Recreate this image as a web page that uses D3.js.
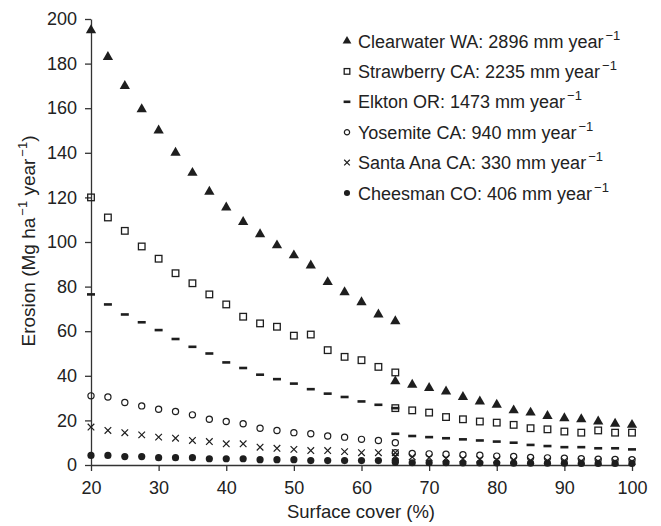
<!DOCTYPE html>
<html>
<head>
<meta charset="utf-8">
<script src="https://cdn.jsdelivr.net/npm/d3@7"></script>
<style>
    body { margin: 0; background: #fff; }
    text { font-family: 'Liberation Sans', Arial, sans-serif; fill: #222; }
    .axis path, .axis line { stroke: #333; stroke-width: 1.3; }
    .axis text { font-size: 18px; }
</style>
</head>
<body>
<div id="chart"></div>
<script>

// DATA

const cover = [20, 22.5, 25, 27.5, 30, 32.5, 35, 37.5, 40, 42.5, 45, 47.5, 50, 52.5, 55, 57.5, 60, 62.5, 65,
    65, 67.5, 70, 72.5, 75, 77.5, 80, 82.5, 85, 87.5, 90, 92.5, 95, 97.5, 100];

const clearwater = [195, 183, 170, 159.5, 150, 140, 131, 122.5, 115.5, 109, 103.5, 98.5, 94, 89.5, 82, 77.5, 73, 67.5, 64.5,
    37.5, 36, 34.5, 33, 30.5, 28.5, 27, 24.5, 23.5, 22, 21, 20.5, 19.5, 18.5, 18];
const strawberry = [120, 111, 105, 98, 92.5, 86, 81.5, 76.5, 72, 66.5, 63.5, 62, 58, 58.5, 51.5, 48.5, 47, 44, 41.5,
    25.5, 24.5, 23.5, 21.5, 20.5, 19.5, 19, 18, 16.5, 16, 15, 14.5, 15.5, 14.5, 14.5];
const elkton = [76.5, 72, 67.5, 64, 60.5, 56.5, 53, 50, 46, 43.5, 40.5, 38.5, 36.5, 34, 32, 30.5, 28.5, 27, 25.5,
    14, 13, 12.5, 12, 11.5, 11, 10.5, 10, 9, 8.5, 8, 8, 7.5, 7.5, 7];
const yosemite = [31, 30.5, 28, 26.5, 25, 24, 22.5, 20.5, 19.5, 18.5, 16.5, 15.5, 14.5, 14, 13, 12.5, 11.5, 11, 10,
    5.5, 5.2, 5, 4.8, 4.6, 4.4, 4, 3.8, 3.4, 3.2, 3, 2.8, 2.6, 2.5, 2.4];
const santa_ana = [17, 15.5, 14.5, 13.5, 12.5, 12, 11, 10.5, 9.5, 9.5, 8, 7.5, 7, 6.5, 6.5, 6, 5.5, 5.5, 5.5,
    4, 3.6, 3.3, 3, 2.8, 2.6, 2.4, 2.2, 2, 1.9, 1.8, 1.7, 1.6, 1.5, 1.5];
const cheesman = [4.3, 4.3, 3.8, 3.8, 3.3, 3.3, 3.3, 2.8, 2.8, 2.8, 2.4, 2.4, 2.4, 2, 2, 2, 2, 2, 2,
    1.2, 1, 1, 1, 0.9, 0.9, 0.9, 0.8, 0.8, 0.8, 0.8, 0.7, 0.7, 0.7, 0.7];

const sites = ['Clearwater WA: 2896 mm year', 'Strawberry CA: 2235 mm year', 'Elkton OR: 1473 mm year',
    'Yosemite CA: 940 mm year', 'Santa Ana CA: 330 mm year', 'Cheesman CO: 406 mm year'];
const series_values = [clearwater, strawberry, elkton, yosemite, santa_ana, cheesman];
const markers = ['triangle', 'square', 'dash', 'circle', 'cross', 'dot'];

const x_ticks = [20, 30, 40, 50, 60, 70, 80, 90, 100];
const y_ticks = [0, 20, 40, 60, 80, 100, 120, 140, 160, 180, 200];

// CONFIG

const width = 661,
    height = 526;

const plot = { left: 91, right: 632, top: 19, bottom: 465 };

const ink = '#1e1e1e';

// FUNCTIONS

const draw_marker = (g, type, x, y, k = 1) => {
    if (type === 'triangle') {
        g.append('path')
            .attr('d', d3.symbol(d3.symbolTriangle, 46 * k * k)())
            .attr('transform', `translate(${x}, ${y})`)
            .attr('fill', ink);
    } else if (type === 'square') {
        const s = 3.3 * k;
        g.append('rect')
            .attr('x', x - s).attr('y', y - s)
            .attr('width', 2 * s).attr('height', 2 * s)
            .attr('fill', 'none').attr('stroke', ink).attr('stroke-width', 1.3);
    } else if (type === 'dash') {
        g.append('rect')
            .attr('x', x - 4 * k).attr('y', y - 1.3)
            .attr('width', 8 * k).attr('height', 2.6)
            .attr('fill', ink);
    } else if (type === 'circle') {
        g.append('circle')
            .attr('cx', x).attr('cy', y).attr('r', 3.1 * k)
            .attr('fill', 'none').attr('stroke', ink).attr('stroke-width', 1.2);
    } else if (type === 'cross') {
        const s = 3.3 * k;
        g.append('path')
            .attr('d', `M${x - s},${y - s}L${x + s},${y + s}M${x - s},${y + s}L${x + s},${y - s}`)
            .attr('stroke', ink).attr('stroke-width', 1.2);
    } else {
        g.append('circle')
            .attr('cx', x).attr('cy', y).attr('r', 3.6 * k)
            .attr('fill', ink);
    }
}

// D3

const svg =
    d3.select('#chart')
    .append('svg')
    .attr('width', width)
    .attr('height', height);

const x_scale =
    d3.scaleLinear()
    .domain([20, 100])
    .range([plot.left, plot.right]);

const y_scale =
    d3.scaleLinear()
    .domain([0, 200])
    .range([plot.bottom, plot.top]);

svg.append('g')
    .attr('class', 'axis')
    .attr('transform', `translate(0, ${plot.bottom})`)
    .call(d3.axisBottom(x_scale).tickValues(x_ticks).tickSize(6).tickSizeOuter(0).tickPadding(5))
    .call(g => g.selectAll('text').attr('dy', '1em'));

svg.append('g')
    .attr('class', 'axis')
    .attr('transform', `translate(${plot.left}, 0)`)
    .call(d3.axisLeft(y_scale).tickValues(y_ticks).tickSize(6).tickSizeOuter(0).tickPadding(8));

svg.selectAll('.axis .domain').attr('stroke', '#333');
svg.selectAll('.axis text').attr('fill', '#222');

// points: later series drawn first so the big symbols sit on top
const points = svg.append('g');
for (let s = series_values.length - 1; s >= 0; s--) {
    series_values[s].forEach((v, i) => {
        draw_marker(points, markers[s], x_scale(cover[i]), y_scale(v));
    });
}

// legend
const legend = svg.append('g')
    .attr('transform', 'translate(347, 41)');

sites.forEach((name, i) => {
    const row = legend.append('g').attr('transform', `translate(0, ${i * 30.4})`);
    draw_marker(row, markers[i], 0, 0, 0.85);
    const label = row.append('text')
        .attr('x', 11)
        .attr('y', 6.5)
        .style('font-size', '18px');
    label.append('tspan').text(name);
    label.append('tspan')
        .attr('dx', 2)
        .attr('dy', -8)
        .style('font-size', '13px')
        .text('\u22121');
});

// axis titles
svg.append('text')
    .attr('x', 361)
    .attr('y', 518)
    .style('text-anchor', 'middle')
    .style('font-size', '18.5px')
    .text('Surface cover (%)');

const y_title = svg.append('text')
    .attr('transform', `translate(35, 241) rotate(-90)`)
    .style('text-anchor', 'middle')
    .style('font-size', '19px');
y_title.append('tspan').text('Erosion (Mg ha');
y_title.append('tspan').attr('dx', 2).attr('dy', -8).style('font-size', '13px').text('\u22121');
y_title.append('tspan').attr('dy', 8).text(' year');
y_title.append('tspan').attr('dx', 2).attr('dy', -8).style('font-size', '13px').text('\u22121');
y_title.append('tspan').attr('dy', 8).text(')');

</script>
</body>
</html>
